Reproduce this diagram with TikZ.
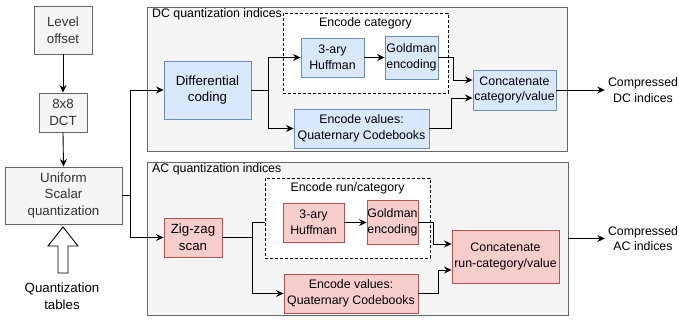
\documentclass[tikz,border=0pt]{standalone}
\usepackage{fontspec}
\setmainfont{Liberation Sans}
\usetikzlibrary{arrows.meta,positioning,calc}
\definecolor{grayfill}{HTML}{F5F5F5}
\definecolor{grayline}{HTML}{666666}
\definecolor{graytext}{HTML}{333333}
\definecolor{bluefill}{HTML}{DAE8FC}
\definecolor{blueline}{HTML}{6C8EBF}
\definecolor{redfill}{HTML}{F8CECC}
\definecolor{redline}{HTML}{B85450}
\tikzset{
  base/.style={rectangle, inner sep=0pt, align=center, line width=0.9pt},
  graybox/.style={base, fill=grayfill, draw=grayline, text=graytext, font=\fontsize{13.3}{16.8}\selectfont},
  container/.style={base, fill=grayfill, draw=grayline},
  dashbox/.style={base, fill=white, draw=black, dashed, dash pattern=on 3pt off 2pt},
  bluebox/.style={base, fill=bluefill, draw=blueline, font=\fontsize{12.35}{15.7}\selectfont},
  redbox/.style={base, fill=redfill, draw=redline, font=\fontsize{12.35}{15.7}\selectfont},
  bigtext/.style={font=\fontsize{13.3}{16.8}\selectfont},
  lab/.style={inner sep=0pt, align=center, font=\fontsize{12.35}{15.7}\selectfont},
  arr/.style={line width=0.9pt, -{Stealth[length=7.5pt,width=7pt]}},
  ln/.style={line width=0.9pt},
}
\begin{document}
\begin{tikzpicture}[x=1pt,y=-1pt]
\useasboundingbox (0,0) rectangle (679,320);
% containers
\node[container, minimum width=420pt, minimum height=144pt] (dcbox) at (357,79) {};
\node[container, minimum width=421pt, minimum height=153pt] (acbox) at (357.5,238.5) {};
\node[lab, anchor=west] (dclab) at (152,14) {DC quantization indices};
\node[lab, anchor=west] (aclab) at (152,169) {AC quantization indices};
% dashed groups
\node[dashbox, minimum width=165pt, minimum height=80pt] (dcenc) at (365.5,53) {};
\node[dashbox, minimum width=165pt, minimum height=80pt] (acenc) at (347.5,218) {};
\node[lab] (dcenclab) at (365.5,23) {Encode category};
\node[lab] (acenclab) at (347.5,188) {Encode run/category};
% left column
\node[graybox, minimum width=58pt, minimum height=48pt] (lvl) at (63,30) {Level\\offset};
\node[graybox, minimum width=48pt, minimum height=39pt] (dct) at (63,112.5) {8x8\\DCT};
\node[graybox, minimum width=117pt, minimum height=57pt] (usq) at (63.5,195.5) {Uniform\\Scalar\\quantization};
\node[lab, bigtext] (qt) at (62,296) {Quantization\\tables};
% DC blocks
\node[bluebox, bigtext, minimum width=87pt, minimum height=58pt] (diff) at (207.5,90) {Differential\\coding};
\node[bluebox, minimum width=63pt, minimum height=39pt] (dhuf) at (332.5,57.5) {3-ary\\Huffman};
\node[bluebox, minimum width=53pt, minimum height=43pt] (dgol) at (411.5,57.5) {Goldman\\encoding};
\node[bluebox, minimum width=135pt, minimum height=39pt] (dval) at (361.5,128.5) {Encode values:\\Quaternary Codebooks};
\node[bluebox, minimum width=83pt, minimum height=40pt] (dcat) at (514.5,90) {Concatenate\\category/value};
\node[lab, inner sep=3pt] (cdc) at (643,90) {Compressed\\DC indices};
% AC blocks
\node[redbox, bigtext, minimum width=58pt, minimum height=39pt] (zig) at (193,237.5) {Zig-zag\\scan};
\node[redbox, minimum width=61pt, minimum height=39pt] (ahuf) at (313.5,222.5) {3-ary\\Huffman};
\node[redbox, minimum width=51pt, minimum height=44pt] (agol) at (392.5,222.5) {Goldman\\encoding};
\node[redbox, minimum width=134pt, minimum height=39pt] (aval) at (351,293.5) {Encode values:\\Quaternary Codebooks};
\node[redbox, minimum width=107pt, minimum height=53pt] (acat) at (505.5,256.5) {Concatenate\\run-category/value};
\node[lab, inner sep=3pt] (cac) at (643,238.5) {Compressed\\AC indices};
% block arrow for quantization tables
\draw[line width=0.9pt, fill=white] (63,227) -- (78,246) -- (68,246) -- (68,273) -- (58,273) -- (58,246) -- (48,246) -- cycle;
% left column connectors
\draw[arr] (lvl.south) -- (dct.north);
\draw[arr] (dct.south) -- (usq.north);
\coordinate (j1) at (130,195.5);
\draw[ln] (usq.east) -- (j1);
\draw[arr] (j1) |- (diff.west);
\draw[arr] (j1) |- (zig.west);
% DC connectors
\coordinate (j2) at (268,90);
\draw[ln] (diff.east) -- (j2);
\draw[arr] (j2) |- (dhuf.west);
\draw[arr] (j2) |- (dval.west);
\draw[arr] (dhuf.east) -- (dgol.west);
\draw[arr] (dgol.east) -- ++(15,0) |- ([yshift=10pt]dcat.west);
\draw[arr] (dval.east) -- ++(22,0) |- ([yshift=-8pt]dcat.west);
\draw[arr] (dcat.east) -- (cdc.west);
% AC connectors
\coordinate (j3) at (252,237.5);
\draw[ln] (zig.east) -- (j3);
\draw[ln] (j3) |- (acenc.west |- ahuf.west);
\draw[arr] (j3) |- (aval.west);
\draw[arr] (ahuf.east) -- (agol.west);
\draw[arr] (agol.east) -- ++(15,0) |- ([yshift=12.5pt]acat.west);
\draw[arr] (aval.east) -- ++(20,0) |- ([yshift=-13.5pt]acat.west);
\draw[arr] (acbox.east) -- (cac.west);
\end{tikzpicture}
\end{document}
